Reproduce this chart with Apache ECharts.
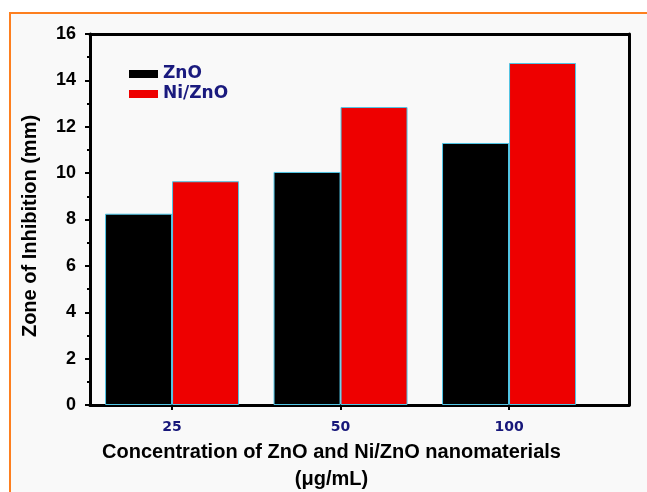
<!DOCTYPE html>
<html>
<head>
<meta charset="utf-8">
<script src="https://cdn.jsdelivr.net/npm/echarts@6/dist/echarts.min.js"></script>
<style>html,body{margin:0;padding:0;background:#fff;}#c{width:647px;height:492px;}</style>
</head>
<body>
<div id="c"></div>
<script>
const categories = ['25', '50', '100'];
const seriesNames = ['ZnO', 'Ni/ZnO'];
const znoValues = [8.25, 10.05, 11.3];
const niznoValues = [9.65, 12.85, 14.75];
const yMin = 0, yMax = 16, yInterval = 2;

const catPos = categories.map((c, i) => i + 1);
const toData = vals => vals.map((v, i) => [catPos[i], v]);

const chart = echarts.init(document.getElementById('c'));
const axisColor = '#000';
const lineW = 3;
chart.setOption({
  backgroundColor: '#fff',
  animation: false,
  graphic: {
    elements: [{
      type: 'rect', z: -10, silent: true,
      shape: { x: 10, y: 13, width: 700, height: 600 },
      style: { fill: '#f9f9f9', stroke: '#fd7f1f', lineWidth: 2 }
    }]
  },
  grid: { left: 90, right: 18, top: 34, bottom: 87, outerBoundsMode: 'none', containLabel: false },
  legend: {
    left: 129, top: 65, orient: 'vertical', padding: 0,
    itemWidth: 29, itemHeight: 8, itemGap: 2,
    icon: 'rect',
    itemStyle: { borderWidth: 0 },
    textStyle: { fontFamily: 'DejaVu Sans', fontWeight: 'bold', fontSize: 17, color: '#1a1a7e', lineHeight: 18 },
    data: seriesNames
  },
  xAxis: [{
    type: 'value', min: 0.513, max: 3.712, position: 'bottom',
    splitLine: { show: false },
    axisLine: { show: true, onZero: false, lineStyle: { color: axisColor, width: lineW } },
    axisTick: { show: true, customValues: catPos, length: 5, lineStyle: { color: axisColor, width: 2 } },
    axisLabel: {
      customValues: catPos, margin: 15,
      formatter: v => categories[Math.round(v) - 1] || '',
      fontFamily: 'DejaVu Sans', fontWeight: 'bold', fontSize: 14, color: '#17177a'
    },
    name: 'Concentration of ZnO and Ni/ZnO nanomaterials\n(\u03bcg/mL)',
    nameLocation: 'middle', nameGap: 30,
    nameTextStyle: { fontFamily: 'Liberation Sans', fontWeight: 'bold', fontSize: 20, color: '#000', lineHeight: 27, padding: [0, 56, 0, 0] }
  }, {
    type: 'value', min: 0.513, max: 3.712, position: 'top',
    splitLine: { show: false },
    axisLine: { show: true, onZero: false, lineStyle: { color: axisColor, width: lineW } },
    axisTick: { show: false }, axisLabel: { show: false }
  }],
  yAxis: [{
    type: 'value', min: yMin, max: yMax, interval: yInterval, position: 'left',
    splitLine: { show: false },
    axisLine: { show: true, onZero: false, lineStyle: { color: axisColor, width: lineW } },
    axisTick: { show: true, length: 5, lineStyle: { color: axisColor, width: 2 } },
    minorTick: { show: true, splitNumber: 2, length: 3, lineStyle: { color: axisColor, width: 2 } },
    axisLabel: { margin: 14, fontFamily: 'Liberation Sans', fontWeight: 'bold', fontSize: 18, color: '#000' },
    name: 'Zone of Inhibition (mm)', nameLocation: 'middle', nameGap: 50,
    nameTextStyle: { fontFamily: 'Liberation Sans', fontWeight: 'bold', fontSize: 20, color: '#000', padding: [0, 13, 0, 0] }
  }, {
    type: 'value', min: yMin, max: yMax, interval: yInterval, position: 'right',
    splitLine: { show: false },
    axisLine: { show: true, onZero: false, lineStyle: { color: axisColor, width: lineW } },
    axisTick: { show: false }, axisLabel: { show: false }
  }],
  series: [{
    name: seriesNames[0], type: 'bar', xAxisIndex: 0, yAxisIndex: 0,
    barWidth: 67, barGap: '0%',
    itemStyle: { color: '#000', borderColor: '#4fc6e6', borderWidth: 1 },
    data: toData(znoValues)
  }, {
    name: seriesNames[1], type: 'bar', xAxisIndex: 0, yAxisIndex: 0,
    barWidth: 67, barGap: '0%',
    itemStyle: { color: '#ee0000', borderColor: '#4fc6e6', borderWidth: 1 },
    data: toData(niznoValues)
  }]
});
</script>
</body>
</html>
